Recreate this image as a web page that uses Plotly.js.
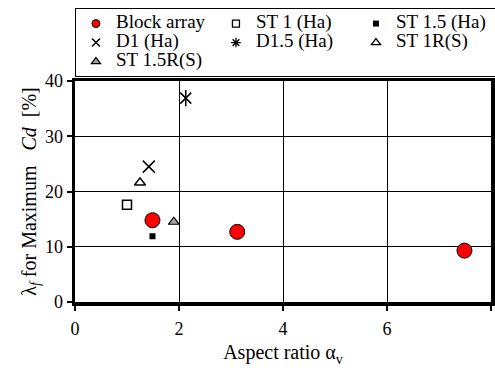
<!DOCTYPE html>
<html>
<head>
<meta charset="utf-8">
<script src="https://cdn.plot.ly/plotly-3.0.1.min.js"></script>
<style>html,body{margin:0;padding:0;background:#fff;} #chart{width:495px;height:370px;}</style>
</head>
<body>
<div id="chart"></div>
<script>
// ---- data ----
var blockX = [1.49, 3.12, 7.49];
var blockY = [14.8, 12.7, 9.3];
var st1X = [1.0];        var st1Y = [17.6];
var st15X = [1.49];      var st15Y = [11.9];
var d1X = [1.42];        var d1Y = [24.5];
var d15X = [2.13];       var d15Y = [36.9];
var st1rX = [1.25];      var st1rY = [21.6];
var st15rX = [1.9];      var st15rY = [14.5];
var seriesNames = ['Block array', 'ST 1 (Ha)', 'ST 1.5 (Ha)', 'D1 (Ha)', 'D1.5 (Ha)', 'ST 1R(S)', 'ST 1.5R(S)'];
var xTicks = [0, 2, 4, 6, 8];
var yTicks = [0, 10, 20, 30, 40];

var FONT = '"Liberation Serif", "Times New Roman", serif';

function pt(x, y, marker) {
  return {x: x, y: y, type: 'scatter', mode: 'markers', marker: marker, showlegend: false, hoverinfo: 'x+y'};
}
function leg(name, marker) {
  return {x: [null], y: [null], type: 'scatter', mode: 'markers', name: '<span style="font-size:19px">' + name + '</span>', marker: marker, showlegend: true};
}

var traces = [
  pt(blockX, blockY, {symbol: 'circle', size: 15, color: '#ff0000', line: {color: '#000', width: 1}}),
  pt(st1X, st1Y, {symbol: 'square-open', size: 9, color: '#000', line: {color: '#000', width: 1.5}}),
  pt(st15X, st15Y, {symbol: 'square', size: 6, color: '#000', line: {width: 0}}),
  pt(d1X, d1Y, {symbol: 'x-thin-open', size: 12, color: '#000', line: {color: '#000', width: 1.5}}),
  pt(d15X, d15Y, {symbol: 'x-thin-open', size: 11, color: '#000', line: {color: '#000', width: 1.5}}),
  pt(d15X, d15Y, {symbol: 'line-ns-open', size: 11.5, color: '#000', line: {color: '#000', width: 1.5}}),
  pt(st1rX, st1rY, {symbol: 'triangle-up-open', size: 9.5, color: '#000', line: {color: '#000', width: 1.5}}),
  pt(st15rX, st15rY, {symbol: 'triangle-up', size: 9.5, color: '#a6a6a6', line: {color: '#000', width: 1.2}}),

  leg(seriesNames[0], {symbol: 'circle', size: 8, color: '#ff0000', line: {color: '#000', width: 1}}),
  leg(seriesNames[1], {symbol: 'square-open', size: 7, color: '#000', line: {color: '#000', width: 1.3}}),
  leg(seriesNames[2], {symbol: 'square', size: 6, color: '#000', line: {width: 0}}),
  leg(seriesNames[3], {symbol: 'x-thin-open', size: 8, color: '#000', line: {color: '#000', width: 1.5}}),
  leg(seriesNames[4], {symbol: 'asterisk-open', size: 8, color: '#000', line: {color: '#000', width: 1.3}}),
  leg(seriesNames[5], {symbol: 'triangle-up-open', size: 8, color: '#000', line: {color: '#000', width: 1.3}}),
  leg(seriesNames[6], {symbol: 'triangle-up', size: 8, color: '#a6a6a6', line: {color: '#000', width: 1.2}})
];

var layout = {
  width: 495, height: 370,
  margin: {l: 75, r: 4, t: 81, b: 68, autoexpand: false},
  paper_bgcolor: '#fff', plot_bgcolor: '#fff',
  font: {family: FONT, color: '#000', size: 18},
  showlegend: true,
  legend: {
    orientation: 'h', x: -0.0001, xanchor: 'left', y: 1.33, yanchor: 'top',
    entrywidth: 95, entrywidthmode: 'pixels', itemwidth: 30,
    bgcolor: '#fff', bordercolor: '#000', borderwidth: 1,
    font: {family: FONT, size: 12, color: '#000'}, traceorder: 'normal'
  },
  xaxis: {
    range: [0, 8], tickvals: xTicks, ticktext: xTicks.map(String),
    showgrid: true, gridcolor: '#000', gridwidth: 1, zeroline: false,
    showline: true, linecolor: '#000', linewidth: 3.5, mirror: true,
    ticks: 'outside', ticklen: 5, tickwidth: 2, tickcolor: '#000', ticklabelstandoff: 3,
    tickfont: {family: FONT, size: 18, color: '#000'},
    title: {text: 'Aspect ratio α<sub>v</sub>', font: {family: FONT, size: 20, color: '#000'}, standoff: 8}
  },
  yaxis: {
    range: [0, 40], tickvals: yTicks, ticktext: yTicks.map(String),
    showgrid: true, gridcolor: '#000', gridwidth: 1, zeroline: false,
    showline: true, linecolor: '#000', linewidth: 3.5, mirror: true,
    ticks: 'outside', ticklen: 5, tickwidth: 2, tickcolor: '#000',
    tickfont: {family: FONT, size: 18, color: '#000'},
    title: {text: 'λ<sub><i>f</i></sub> for Maximum\u00a0\u00a0\u00a0<i>Cd</i>\u00a0\u00a0[%]' + '\u00a0'.repeat(6), font: {family: FONT, size: 20, color: '#000'}, standoff: 4}
  },
  xaxis2: {
    overlaying: 'x', anchor: 'y', side: 'bottom', range: [0, 8], tickvals: xTicks,
    showticklabels: false, showgrid: false, zeroline: false, showline: false,
    ticks: 'inside', ticklen: 4, tickwidth: 2, tickcolor: '#000'
  },
  yaxis2: {
    overlaying: 'y', anchor: 'x', side: 'left', range: [0, 40], tickvals: yTicks,
    showticklabels: false, showgrid: false, zeroline: false, showline: false,
    ticks: 'inside', ticklen: 4, tickwidth: 2, tickcolor: '#000'
  }
};

Plotly.newPlot('chart', traces, layout, {displayModeBar: false, staticPlot: true});
</script>
</body>
</html>
